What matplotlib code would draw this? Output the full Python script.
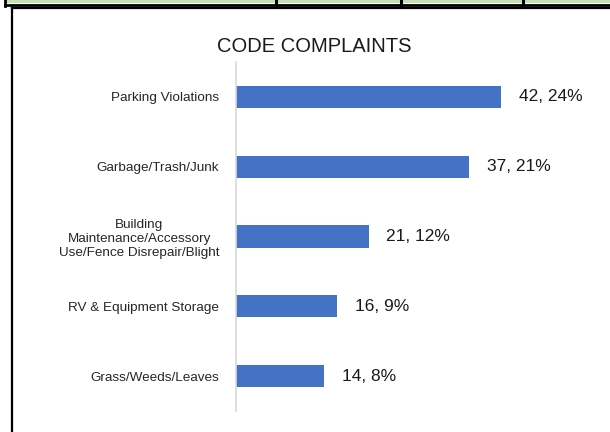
import matplotlib
matplotlib.use("Agg")
import matplotlib.pyplot as plt
from matplotlib.patches import Rectangle
from matplotlib.lines import Line2D

categories = [
    "Parking Violations",
    "Garbage/Trash/Junk",
    "Building\nMaintenance/Accessory\nUse/Fence Disrepair/Blight",
    "RV & Equipment Storage",
    "Grass/Weeds/Leaves",
]
counts = [42, 37, 21, 16, 14]
percents = [24, 21, 12, 9, 8]

plt.rcParams["font.family"] = ["Liberation Sans", "DejaVu Sans"]

W, H = 610, 432
fig = plt.figure(figsize=(W / 100, H / 100), dpi=100)

# table remnant at top and chart border
fig.patches.append(Rectangle((6 / W, 1 - 3 / H), 1, 3 / H, transform=fig.transFigure,
                             facecolor="#c6e0b4", edgecolor="none"))
fig.lines.append(Line2D([5 / W, 1], [1 - 4.5 / H] * 2, transform=fig.transFigure,
                        color="black", lw=2))
fig.lines.append(Line2D([5 / W] * 2, [1 - 5.5 / H, 1], transform=fig.transFigure,
                        color="black", lw=2))
for sx in [276, 401, 523]:
    fig.lines.append(Line2D([sx / W] * 2, [1 - 5 / H, 1], transform=fig.transFigure,
                            color="black", lw=2.2))
fig.lines.append(Line2D([12 / W, 1], [1 - 8 / H] * 2, transform=fig.transFigure,
                        color="black", lw=1.6))
fig.lines.append(Line2D([12 / W] * 2, [0, 1 - 8 / H], transform=fig.transFigure,
                        color="black", lw=1.6))

px_per_unit = 6.31
xmax = 50
ax = fig.add_axes([236 / W, 21 / H, xmax * px_per_unit / W, 349 / H])

y = list(range(len(categories)))
ax.barh(y, counts, height=0.32, color="#4472c4")
ax.set_ylim(len(categories) - 0.5, -0.5)
ax.set_xlim(0, xmax)

for yi, c, p in zip(y, counts, percents):
    ax.text(c + 2.8, yi, f"{c}, {p}%", va="center", ha="left", fontsize=12.5,
            color="#1a1a1a", clip_on=False)

ax.set_yticks(y)
ax.set_yticklabels(categories, fontsize=9.7, color="#262626", multialignment="center")
ax.tick_params(axis="y", length=0, pad=12)
ax.set_xticks([])
for s in ["top", "right", "bottom"]:
    ax.spines[s].set_visible(False)
ax.spines["left"].set_color("#d9d9d9")
ax.spines["left"].set_linewidth(1.2)

fig.text(314 / W, 1 - 47 / H, "CODE COMPLAINTS", ha="center", va="center",
         fontsize=14.5, color="#1a1a1a")

fig.savefig("out.png", dpi=100)
